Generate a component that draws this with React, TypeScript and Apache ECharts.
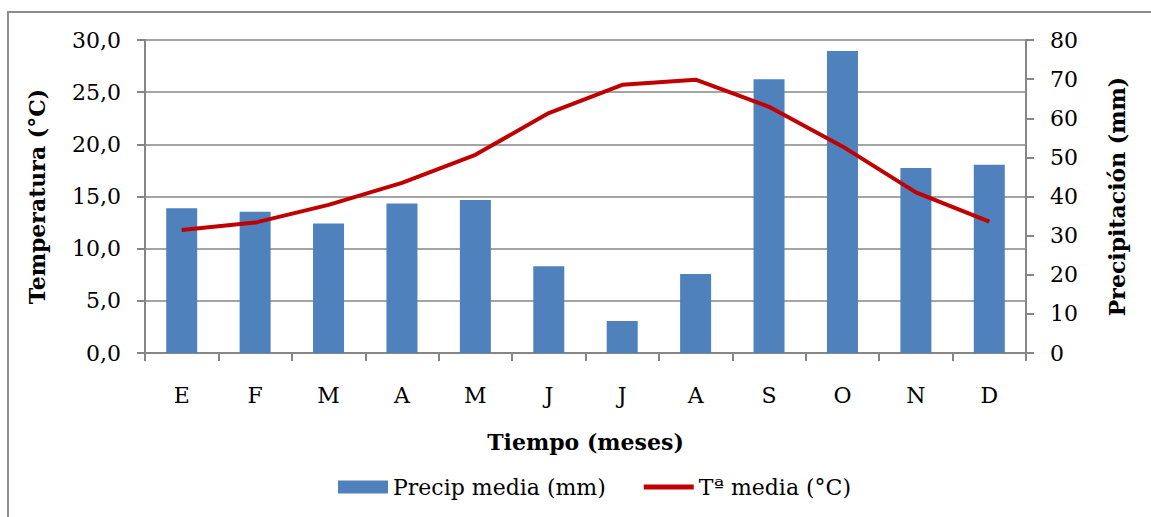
import React, { useEffect, useRef } from "react";
import * as echarts from "echarts";

const months = ["E", "F", "M", "A", "M", "J", "J", "A", "S", "O", "N", "D"];
const precipMedia = [37.0, 36.1, 33.1, 38.2, 39.1, 22.2, 8.2, 20.2, 70.0, 77.2, 47.3, 48.1];
const tempMedia = [11.8, 12.5, 14.2, 16.3, 19.0, 23.0, 25.7, 26.2, 23.6, 19.8, 15.4, 12.6];

const FONT = "DejaVu Serif";
const FS = 22;

export default function App() {
  const ref = useRef<HTMLDivElement>(null);
  useEffect(() => {
    document.body.style.margin = "0";
    const chart = echarts.init(ref.current!, null, { renderer: "svg" });
    chart.setOption({
      animation: false,
      backgroundColor: "#ffffff",
      textStyle: { fontFamily: FONT, color: "#000" },
      graphic: [
        {
          type: "rect",
          shape: { x: 8, y: 12, width: 1300, height: 700 },
          style: { fill: "none", stroke: "#8c8c8c", lineWidth: 2 },
          silent: true,
          z: -10,
        },
      ],
      grid: { left: 145, right: 125, top: 40, bottom: 164, containLabel: false },
      legend: {
        bottom: 14,
        left: 333,
        itemGap: 38,
        itemWidth: 50,
        itemHeight: 13,
        textStyle: { fontFamily: FONT, fontSize: FS, color: "#000" },
        data: [
          { name: "Precip media (mm)", icon: "rect" },
          { name: "Tª media (°C)", icon: "path://M0,0H50V5H0Z", itemStyle: { color: "#C00000" } },
        ],
      },
      xAxis: {
        type: "category",
        data: months,
        name: "Tiempo (meses)",
        nameLocation: "middle",
        nameGap: 78,
        nameTextStyle: { fontFamily: FONT, fontSize: FS, fontWeight: "bold", color: "#000" },
        axisLine: { lineStyle: { color: "#868686", width: 2 } },
        axisTick: { show: true, length: 8, lineStyle: { color: "#868686", width: 2 } },
        axisLabel: { margin: 31, fontFamily: FONT, fontSize: FS, color: "#000" },
      },
      yAxis: [
        {
          type: "value",
          min: 0,
          max: 30,
          interval: 5,
          name: "Temperatura (°C)",
          nameLocation: "middle",
          nameGap: 97,
          nameRotate: 90,
          nameTextStyle: { fontFamily: FONT, fontSize: FS, fontWeight: "bold", color: "#000" },
          axisLine: { show: true, lineStyle: { color: "#868686", width: 2 } },
          axisTick: { show: true, length: 8, lineStyle: { color: "#868686", width: 2 } },
          axisLabel: {
            margin: 24,
            fontFamily: FONT,
            fontSize: FS,
            color: "#000",
            formatter: (v: number) => v.toFixed(1).replace(".", ","),
          },
          splitLine: { show: true, lineStyle: { color: "#868686", width: 1.5 } },
        },
        {
          type: "value",
          min: 0,
          max: 80,
          interval: 10,
          name: "Precipitación (mm)",
          nameLocation: "middle",
          nameGap: 80,
          nameRotate: 90,
          nameTextStyle: { fontFamily: FONT, fontSize: FS, fontWeight: "bold", color: "#000" },
          axisLine: { show: true, lineStyle: { color: "#868686", width: 2 } },
          axisTick: { show: true, length: 8, lineStyle: { color: "#868686", width: 2 } },
          axisLabel: { margin: 24, fontFamily: FONT, fontSize: FS, color: "#000" },
          splitLine: { show: false },
        },
      ],
      series: [
        {
          name: "Precip media (mm)",
          type: "bar",
          yAxisIndex: 1,
          data: precipMedia,
          barWidth: 31,
          itemStyle: { color: "#4F81BD" },
        },
        {
          name: "Tª media (°C)",
          type: "line",
          yAxisIndex: 0,
          data: tempMedia,
          symbol: "none",
          lineStyle: { color: "#C00000", width: 4 },
          itemStyle: { color: "#C00000" },
          z: 5,
        },
      ],
    });
    return () => chart.dispose();
  }, []);
  return <div ref={ref} style={{ width: 1151, height: 517 }} />;
}
